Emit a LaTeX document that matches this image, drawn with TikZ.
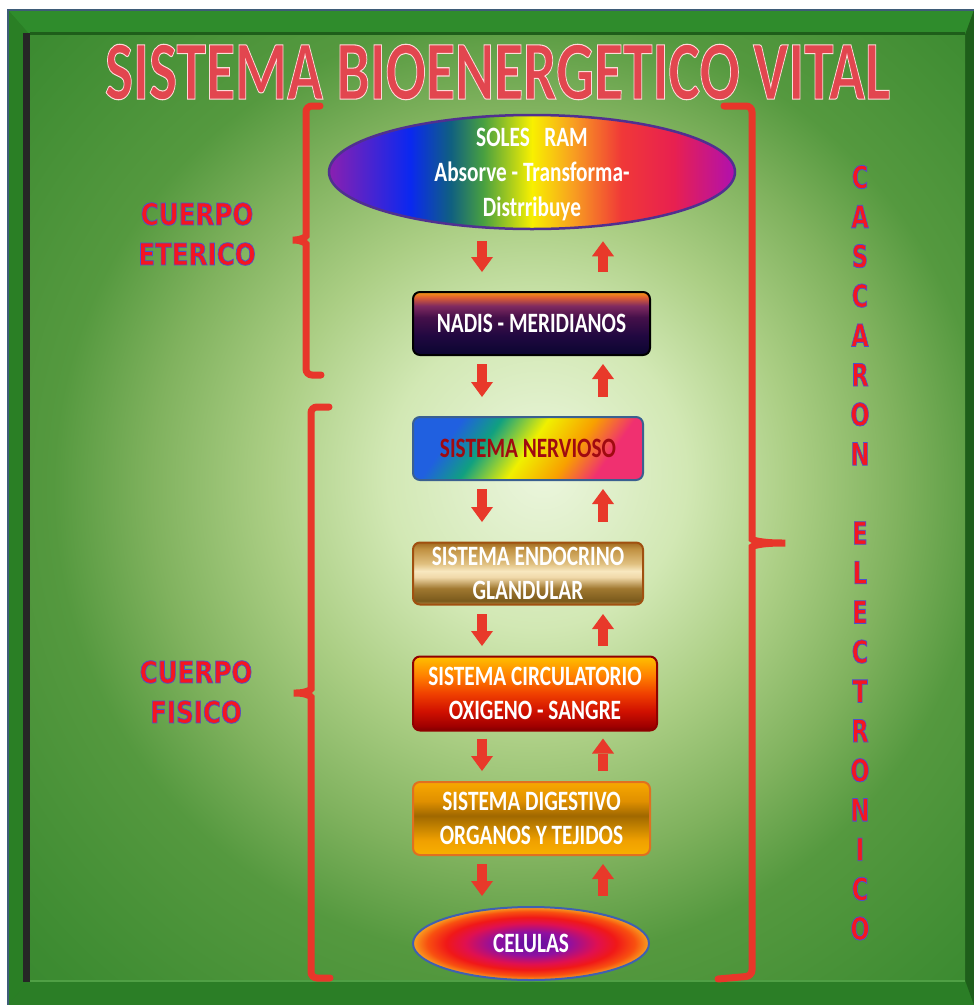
\documentclass[tikz,border=0pt]{standalone}
\usepackage{fontspec}
\newfontfamily\calfont{Carlito}
\newfontfamily\heavyfont{DejaVu Sans}
\usetikzlibrary{shapes.geometric,arrows.meta}

% colours
\definecolor{glow0}{HTML}{ECF6DE}
\definecolor{glow1}{HTML}{D2E8B4}
\definecolor{glow2}{HTML}{ABCE84}
\definecolor{glow3}{HTML}{80B25E}
\definecolor{glow4}{HTML}{55993F}
\definecolor{glow5}{HTML}{3C8B31}
\definecolor{glow6}{HTML}{2F7F28}
\definecolor{frametop}{HTML}{2F8C2C}
\definecolor{frameleft}{HTML}{2A7F25}
\definecolor{framebot}{HTML}{2B7E26}
\definecolor{frameright}{HTML}{1E5E1A}
\definecolor{framehl}{HTML}{4FA045}
\definecolor{frameedge}{HTML}{3E5C78}
\definecolor{brkred}{HTML}{E8362A}
\definecolor{arrred}{HTML}{E8392A}
\definecolor{labred}{HTML}{F51520}
\definecolor{titred}{HTML}{E2464F}
% rainbow
\definecolor{rb0}{HTML}{8A20B0}
\definecolor{rb1}{HTML}{0A28F0}
\definecolor{rb2}{HTML}{106080}
\definecolor{rb3}{HTML}{48A040}
\definecolor{rb4}{HTML}{F8F000}
\definecolor{rb5}{HTML}{F8A020}
\definecolor{rb6}{HTML}{F03838}
\definecolor{rb7}{HTML}{E82050}
\definecolor{rb8}{HTML}{B010B0}
% nadis
\definecolor{nd0}{HTML}{0A0530}
\definecolor{nd1}{HTML}{200840}
\definecolor{nd2}{HTML}{45104A}
\definecolor{nd3}{HTML}{802A60}
\definecolor{nd4}{HTML}{E06030}
\definecolor{nd5}{HTML}{F59A10}
% nervioso
\definecolor{nv0}{HTML}{2060E0}
\definecolor{nv1}{HTML}{10A080}
\definecolor{nv2}{HTML}{F0F000}
\definecolor{nv3}{HTML}{F8A000}
\definecolor{nv4}{HTML}{F03070}
\definecolor{nvtext}{HTML}{A00A10}
\definecolor{nvborder}{HTML}{3A6090}
% endocrino
\definecolor{en0}{HTML}{B08840}
\definecolor{en1}{HTML}{7A5A1C}
\definecolor{en2}{HTML}{A07830}
\definecolor{en3}{HTML}{F0D8A8}
\definecolor{en4}{HTML}{F8E8C0}
\definecolor{en5}{HTML}{E0C080}
\definecolor{en6}{HTML}{C09040}
\definecolor{en7}{HTML}{A06A20}
\definecolor{enborder}{HTML}{A05010}
% circulatorio
\definecolor{ci0}{HTML}{800000}
\definecolor{ci1}{HTML}{A00000}
\definecolor{ci2}{HTML}{D01000}
\definecolor{ci3}{HTML}{F04000}
\definecolor{ci4}{HTML}{FF8000}
\definecolor{ci5}{HTML}{FFC000}
\definecolor{ciborder}{HTML}{900000}
% digestivo
\definecolor{dg0}{HTML}{F8B000}
\definecolor{dg1}{HTML}{F0A000}
\definecolor{dg2}{HTML}{C08000}
\definecolor{dg3}{HTML}{A06800}
\definecolor{dg4}{HTML}{E09000}
\definecolor{dg5}{HTML}{F8A800}
\definecolor{dgborder}{HTML}{E07020}
% celulas
\definecolor{ce0}{HTML}{6010A0}
\definecolor{ce1}{HTML}{9010A0}
\definecolor{ce2}{HTML}{E01050}
\definecolor{ce3}{HTML}{F01818}
\definecolor{ce4}{HTML}{F85010}
\definecolor{ce5}{HTML}{F8A020}
\definecolor{ceborder}{HTML}{4060B0}
\definecolor{solesborder}{HTML}{503090}

\pgfdeclareradialshading{panelglow}{\pgfpoint{2.5bp}{2bp}}{color(0bp)=(glow0); color(8bp)=(glow1); color(14bp)=(glow2); color(20bp)=(glow3); color(25bp)=(glow4); color(35bp)=(glow5); color(50bp)=(glow6)}
\pgfdeclarehorizontalshading{rainbow}{100bp}{color(0bp)=(rb0); color(25bp)=(rb0); color(35bp)=(rb1); color(40bp)=(rb2); color(44bp)=(rb3); color(50bp)=(rb4); color(55bp)=(rb5); color(61bp)=(rb6); color(67.5bp)=(rb7); color(75bp)=(rb8); color(100bp)=(rb8)}
\pgfdeclareverticalshading{nadisshade}{100bp}{color(0bp)=(nd0); color(25bp)=(nd0); color(40bp)=(nd1); color(55bp)=(nd2); color(64bp)=(nd3); color(71bp)=(nd4); color(75bp)=(nd5); color(100bp)=(nd5)}
\pgfdeclarehorizontalshading{nervshade}{100bp}{color(0bp)=(nv0); color(28bp)=(nv0); color(38bp)=(nv1); color(50bp)=(nv2); color(62bp)=(nv3); color(72bp)=(nv4); color(100bp)=(nv4)}
\pgfdeclareverticalshading{endoshade}{100bp}{color(0bp)=(en0); color(25bp)=(en0); color(28bp)=(en1); color(38bp)=(en2); color(47bp)=(en3); color(52bp)=(en4); color(58bp)=(en5); color(70bp)=(en6); color(75bp)=(en7); color(100bp)=(en7)}
\pgfdeclareverticalshading{circshade}{100bp}{color(0bp)=(ci0); color(25bp)=(ci0); color(28bp)=(ci1); color(38bp)=(ci2); color(50bp)=(ci3); color(62bp)=(ci4); color(75bp)=(ci5); color(100bp)=(ci5)}
\pgfdeclareverticalshading{digshade}{100bp}{color(0bp)=(dg0); color(25bp)=(dg0); color(35bp)=(dg1); color(45bp)=(dg2); color(52bp)=(dg3); color(62bp)=(dg4); color(75bp)=(dg5); color(100bp)=(dg5)}
\pgfdeclareradialshading{celshade}{\pgfpoint{0bp}{0bp}}{color(0bp)=(ce0); color(8bp)=(ce1); color(14bp)=(ce2); color(18bp)=(ce3); color(22bp)=(ce4); color(25bp)=(ce5); color(50bp)=(ce5)}

\newcommand{\boxfont}{\calfont\bfseries\fontsize{28}{34.5}\selectfont}
\newcommand{\labfont}{\heavyfont\bfseries\fontsize{30}{40}\selectfont}
\newcommand{\vfont}{\heavyfont\bfseries\fontsize{31}{36}\selectfont}
\newcommand{\cz}[1]{\scalebox{0.76}[1]{#1}}
\newcommand{\outl}[1]{\special{pdf:literal direct 2 Tr 0.8 w 0.30 0.32 0.80 RG}#1\special{pdf:literal direct 0 Tr}}
\newcommand{\titl}[1]{\special{pdf:literal direct 2 Tr 0.5 w 1 0.85 0.85 RG}#1\special{pdf:literal direct 0 Tr}}
\newcommand{\pairarrows}[4]{%
  \draw[blkarrow, shorten <=#3, shorten >=#4] (dl |- #1.south) -- (dl |- #2.north);
  \draw[blkarrow, shorten <=#4, shorten >=#3] (ul |- #2.north) -- (ul |- #1.south);}

\begin{document}
\begin{tikzpicture}[x=1pt,y=-1pt,
  boxbase/.style={rectangle, rounded corners=7pt, inner sep=0pt, line width=2pt, align=center, font=\boxfont, text=white, shade},
  ovalbase/.style={ellipse, inner sep=0pt, line width=2.5pt, align=center, font=\boxfont, text=white, shade},
  blkarrow/.style={draw=arrred, line width=10pt, -{Triangle[width=22pt,length=15pt,line width=0pt]}},
  brk/.style={draw=brkred, line width=7pt, rounded corners=6pt, line cap=round},
  sidelbl/.style={font=\labfont, text=labred, align=center, inner sep=0pt},
  vletter/.style={font=\vfont, text=labred, inner sep=0pt}]
\useasboundingbox (0,0) rectangle (974,1005);
\fill[white] (0,0) rectangle (974,1005);
% frame
\fill[frameleft] (8,10) rectangle (974,1005);
\fill[frametop] (8,10) -- (974,10) -- (965,35) -- (30,35) -- cycle;
\fill[frameleft] (8,10) -- (30,35) -- (30,980) -- (8,1005) -- cycle;
\fill[framebot] (8,1005) -- (30,980) -- (965,980) -- (974,1005) -- cycle;
\fill[frameright] (974,10) -- (965,35) -- (965,980) -- (974,1005) -- cycle;
\fill[black!85] (23,33) rectangle (30,982);
\fill[frameright] (30,32) rectangle (965,35);
\draw[frameedge, line width=1.5pt] (8,1005) -- (8,10) -- (974,10);
\shade[shading=panelglow] (30,35) rectangle (965,980);
\draw[framehl, line width=1.5pt] (30,981) -- (965,981);

% title
\node[inner sep=0pt, text=titred] (title) at (497.5,72) {\resizebox{785pt}{55pt}{\calfont\bfseries\fontsize{40}{44}\selectfont\titl{SISTEMA BIOENERGETICO VITAL}}};

% brackets
\draw[brk] (320,106) -- (306,106) -- (306,230) .. controls (306,237) and (300,240) .. (289,240) .. controls (300,240) and (306,243) .. (306,250) -- (306,375) -- (321,375);
\draw[brk] (329,407) -- (311,407) -- (311,683) .. controls (311,690) and (305,693) .. (290,693) .. controls (305,693) and (311,696) .. (311,703) -- (311,978) -- (330,978);
\draw[brk] (724,106) -- (752,106) -- (752,533) .. controls (752,540) and (760,543) .. (789,543) .. controls (760,543) and (752,546) .. (752,553) -- (752,976) -- (718,979);

% main column
\node[ovalbase, shading=rainbow, draw=solesborder, minimum width=406pt, minimum height=114pt] (soles) at (532,172) {};
\node[inner sep=0pt, align=center, font=\calfont\bfseries\fontsize{28}{35}\selectfont, text=white] (solestxt) at (532,175) {\cz{SOLES\ \ \ RAM}\\\cz{Absorve - Transforma-}\\\cz{Distrribuye}};
\node[boxbase, shading=nadisshade, draw=black, minimum width=237pt, minimum height=63pt] (nadis) at (531.5,323.5) {\cz{NADIS - MERIDIANOS}};
\node[boxbase, shading=nervshade, shading angle=-35, draw=nvborder, text=nvtext, minimum width=230pt, minimum height=63pt] (nerv) at (528,448.5) {\cz{SISTEMA NERVIOSO}};
\node[boxbase, shading=endoshade, draw=enborder, minimum width=230pt, minimum height=62pt] (endo) at (528,573.5) {\cz{SISTEMA ENDOCRINO}\\\cz{GLANDULAR}};
\node[boxbase, shading=circshade, draw=ciborder, minimum width=244pt, minimum height=74pt] (circ) at (535,693.5) {\cz{SISTEMA CIRCULATORIO}\\\cz{OXIGENO - SANGRE}};
\node[boxbase, shading=digshade, draw=dgborder, minimum width=237pt, minimum height=73pt] (dig) at (531.5,818.5) {\cz{SISTEMA DIGESTIVO}\\\cz{ORGANOS Y TEJIDOS}};
\node[ovalbase, shading=celshade, draw=ceborder, line width=2pt, minimum width=236pt, minimum height=73pt] (cel) at (531,943.5) {\cz{CELULAS}};

% arrows
\coordinate (dl) at (482,0);
\coordinate (ul) at (603,0);
\pairarrows{soles}{nadis}{11pt}{19pt}
\pairarrows{nadis}{nerv}{8pt}{19pt}
\pairarrows{nerv}{endo}{8pt}{19.5pt}
\pairarrows{endo}{circ}{8.5pt}{9.5pt}
\pairarrows{circ}{dig}{7pt}{10pt}
\pairarrows{dig}{cel}{8pt}{10pt}

% side labels
\node[sidelbl] (eterico) at (197,234) {\outl{\scalebox{0.82}[1]{CUERPO}}\\\outl{\scalebox{0.82}[1]{ETERICO}}};
\node[sidelbl] (fisico) at (196,692) {\outl{\scalebox{0.82}[1]{CUERPO}}\\\outl{\scalebox{0.82}[1]{FISICO}}};

% vertical label
\foreach \ch/\i in {C/0,A/1,S/2,C/3,A/4,R/5,O/6,N/7,E/9,L/10,E/11,C/12,T/13,R/14,O/15,N/16,I/17,C/18,O/19}
  \node[vletter] (cas\i) at (860,{177+39.55*\i}) {\outl{\scalebox{0.72}[1]{\ch}}};
\end{tikzpicture}
\end{document}
